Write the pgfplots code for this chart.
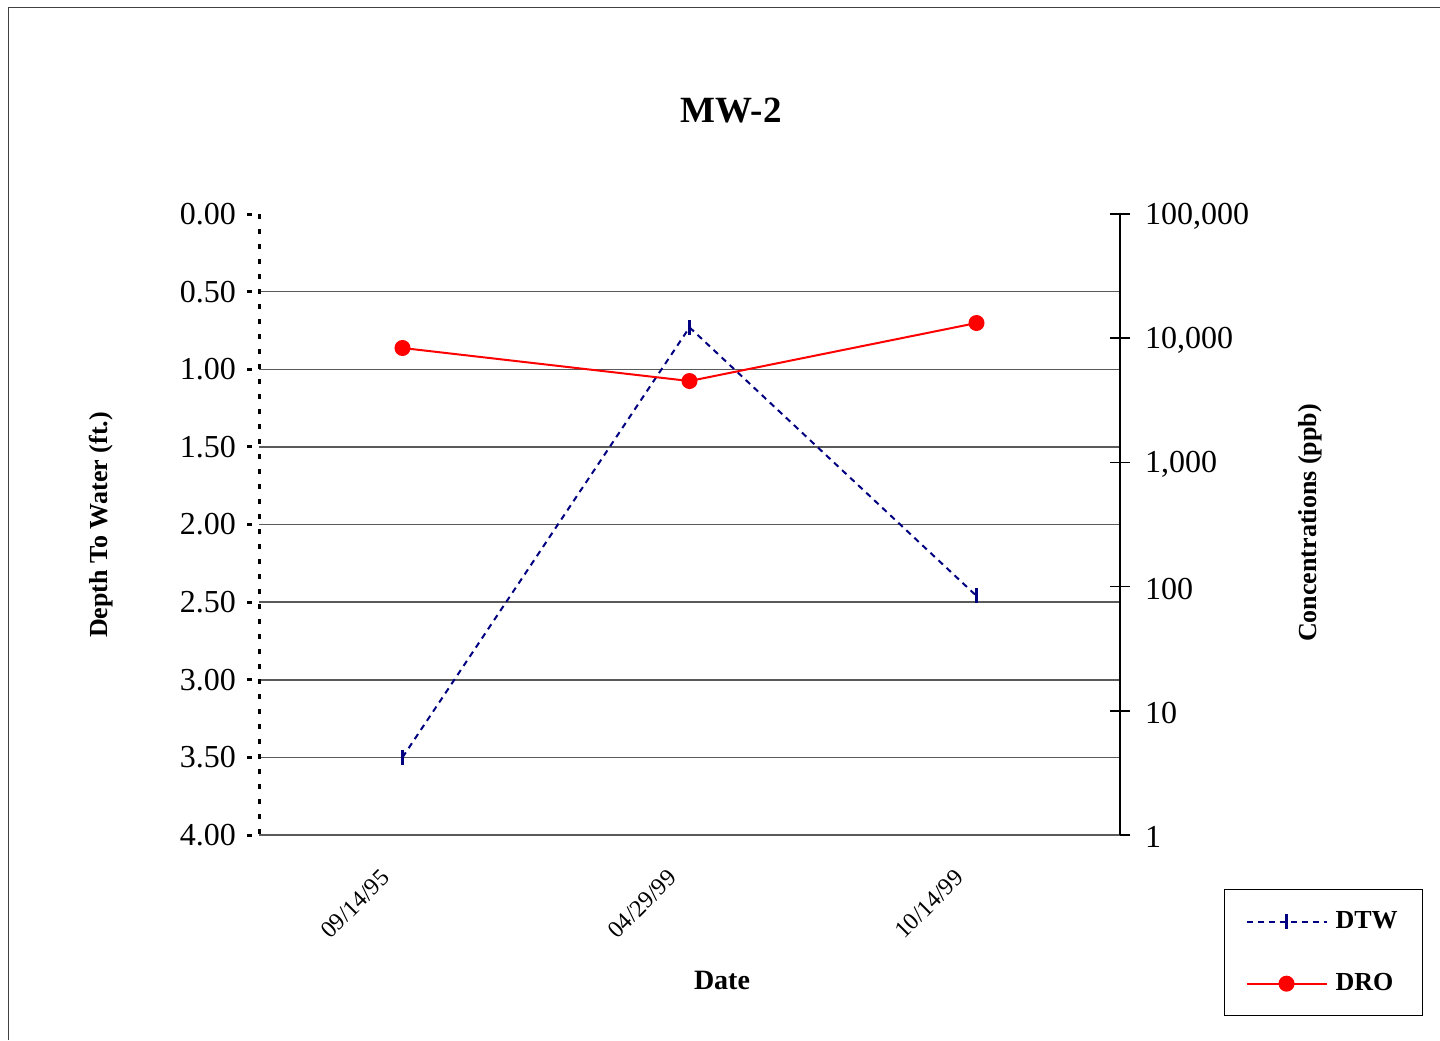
\documentclass[border=0pt]{standalone}
\usepackage{fontspec}
\setmainfont{Liberation Serif}
\usepackage{pgfplots}
\pgfplotsset{compat=1.18}
\definecolor{navyc}{RGB}{0,0,128}
\definecolor{gridc}{RGB}{90,90,90}
\pgfplotstableread{
x   dtw
0.5 3.50
1.5 0.73
2.5 2.46
}\dtwtable
\pgfplotstableread{
x   dro
0.5 8340
1.5 4520
2.5 13250
}\drotable
\begin{document}
\begin{tikzpicture}
\useasboundingbox (0,0) rectangle (720pt,520pt);
\draw[black!75, line width=0.5pt] (4pt,0) -- (4pt,516pt) -- (720pt,516pt);
% left axis
\begin{axis}[
  at={(129.5pt,102.5pt)}, anchor=south west, scale only axis,
  width=430.5pt, height=310.5pt,
  xmin=0, xmax=3, ymin=0, ymax=4, y dir=reverse,
  axis x line=none, axis y line*=left,
  axis line style={black, line width=1.5pt, dash pattern=on 2.5pt off 5pt, -},
  ytick={0.5,1,...,4}, yticklabels={0.50,1.00,1.50,2.00,2.50,3.00,3.50,4.00},
  extra y ticks={0}, extra y tick labels={0.00},
  extra y tick style={grid=none},
  ymajorgrids, grid style={gridc, line width=0.75pt},
  tick align=outside, major tick length=2.5pt,
  y tick style={black, line width=1.5pt, solid, xshift=-3.5pt},
  yticklabel style={font=\fontsize{16}{18}\selectfont, xshift=-5.5pt},
  clip=false,
]
\addplot[navyc, line width=1pt, dash pattern=on 3pt off 2.5pt,
  mark=|, mark size=3.75pt, mark options={solid, line width=1.5pt}] table[x=x,y=dtw] {\dtwtable};
\end{axis}
% right axis
\begin{axis}[
  at={(129.5pt,102.5pt)}, anchor=south west, scale only axis,
  width=430.5pt, height=310.5pt,
  xmin=0, xmax=3, ymode=log, ymin=1, ymax=100000,
  axis x line*=bottom, axis y line*=right,
  x axis line style={gridc, line width=0.75pt, -},
  y axis line style={black, line width=0.75pt, -},
  ytick={1,10,100,1000,10000,100000},
  yticklabels={1,10,100,{1,000},{10,000},{100,000}},
  yminorticks=false,
  tick align=center,
  y tick style={black, line width=0.75pt}, major tick length=10pt,
  yticklabel style={font=\fontsize{16}{18}\selectfont, xshift=4pt, yshift=-1pt},
  xtick={0.5,1.5,2.5}, xticklabels={09/14/95,04/29/99,10/14/99},
  x tick style={draw=none},
  minor xtick={0,1,2,3},
  minor x tick style={gridc, line width=0.75pt, yshift=-3.5pt},
  minor tick length=7pt,
  xticklabel style={font=\fontsize{12}{14}\selectfont, rotate=45, anchor=north east, xshift=-12.8pt, yshift=3.5pt},
  legend style={at={(1.1208,-0.087)}, anchor=north west, draw=black, line width=0.5pt,
    font=\bfseries\fontsize{13}{15}\selectfont, inner xsep=10.5pt, inner ysep=9pt,
    row sep=17pt, column sep=2pt, cells={anchor=west}},
  legend cell align=left,
  legend image code/.code={\draw[#1, mark repeat=2, mark phase=2] plot coordinates {(0pt,0pt) (20pt,0pt) (40pt,0pt)};},
  clip=false,
]
\addlegendimage{navyc, line width=1pt, dash pattern=on 3pt off 2.5pt,
  mark=|, mark size=3.75pt, mark options={solid, line width=1.5pt}}
\addlegendentry{DTW}
\addplot[red, line width=1pt, mark=*, mark size=3.5pt, mark options={solid, fill=red}]
  table[x=x,y=dro] {\drotable};
\addlegendentry{DRO}
\end{axis}
\node[font=\bfseries\fontsize{18.5}{20}\selectfont] at (365.5pt,464.5pt) {MW-2};
\node[font=\bfseries\fontsize{14}{16}\selectfont] at (361pt,30pt) {Date};
\node[font=\bfseries\fontsize{13}{15}\selectfont, rotate=90] at (50.5pt,257.5pt) {Depth To Water (ft.)};
\node[font=\bfseries\fontsize{13}{15}\selectfont, rotate=90] at (655pt,258.5pt) {Concentrations (ppb)};
\end{tikzpicture}
\end{document}
